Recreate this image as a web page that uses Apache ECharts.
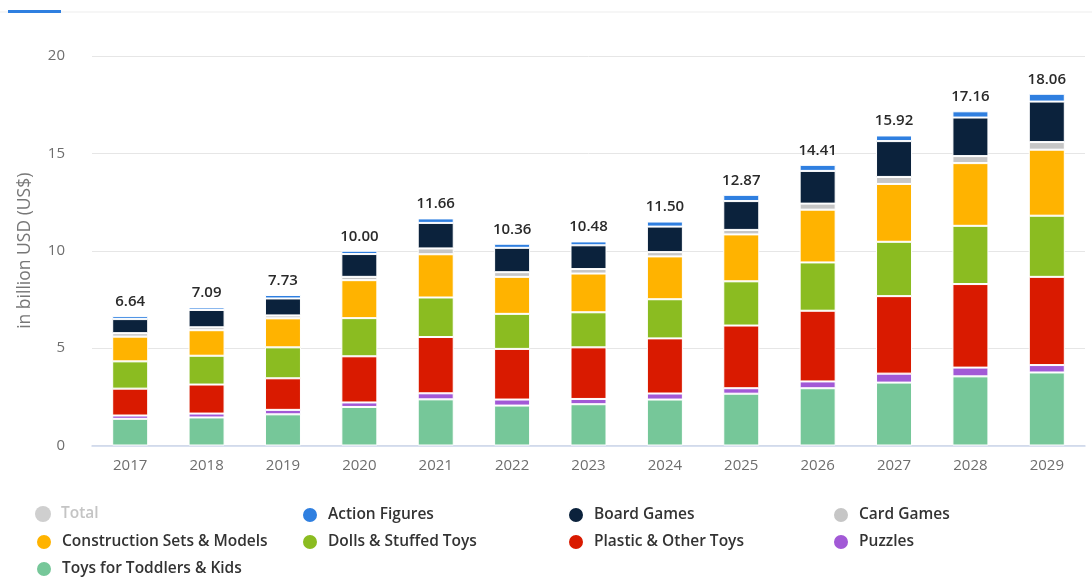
<!DOCTYPE html>
<html>
<head>
<meta charset="utf-8">
<title>Toys market revenue by segment</title>
<script src="https://cdn.jsdelivr.net/npm/echarts@6/dist/echarts.min.js"></script>
<style>
  html, body { margin: 0; padding: 0; background: #ffffff; }
  #chart { width: 1092px; height: 577px; }
</style>
</head>
<body>
<div id="chart"></div>
<script>
// Revenue in billion US$, per segment (stacked bottom to top)
const years = ['2017', '2018', '2019', '2020', '2021', '2022', '2023', '2024', '2025', '2026', '2027', '2028', '2029'];
const toddlersKids = [1.37, 1.44, 1.60, 1.98, 2.37, 2.05, 2.12, 2.36, 2.66, 2.94, 3.23, 3.55, 3.75];
const puzzles      = [0.17, 0.20, 0.23, 0.23, 0.31, 0.31, 0.27, 0.31, 0.28, 0.35, 0.46, 0.45, 0.38];
const plasticOther = [1.38, 1.49, 1.62, 2.37, 2.89, 2.60, 2.65, 2.83, 3.22, 3.63, 3.98, 4.29, 4.53];
const dollsStuffed = [1.40, 1.48, 1.59, 1.96, 2.03, 1.80, 1.80, 2.01, 2.27, 2.48, 2.79, 2.99, 3.14];
const construction = [1.27, 1.31, 1.49, 1.95, 2.22, 1.90, 1.99, 2.20, 2.41, 2.71, 2.97, 3.22, 3.39];
const cardGames    = [0.18, 0.15, 0.15, 0.17, 0.30, 0.24, 0.23, 0.22, 0.23, 0.31, 0.36, 0.36, 0.39];
const boardGames   = [0.72, 0.89, 0.87, 1.17, 1.31, 1.25, 1.22, 1.31, 1.48, 1.68, 1.84, 1.98, 2.08];
const actionFigs   = [0.15, 0.13, 0.18, 0.17, 0.23, 0.21, 0.20, 0.26, 0.32, 0.31, 0.29, 0.32, 0.40];
const totals       = [6.64, 7.09, 7.73, 10.00, 11.66, 10.36, 10.48, 11.50, 12.87, 14.41, 15.92, 17.16, 18.06];
const yTicks = [0, 5, 10, 15, 20];

const FONT = '"Open Sans", "DejaVu Sans", sans-serif';
const BAR_W = 36;

const segments = [
  { name: 'Toys for Toddlers & Kids',   data: toddlersKids, color: '#76c799' },
  { name: 'Puzzles',                    data: puzzles,      color: '#a259d6' },
  { name: 'Plastic & Other Toys',       data: plasticOther, color: '#d91a00' },
  { name: 'Dolls & Stuffed Toys',       data: dollsStuffed, color: '#8bbc21' },
  { name: 'Construction Sets & Models', data: construction, color: '#ffb300' },
  { name: 'Card Games',                 data: cardGames,    color: '#c6c6c6' },
  { name: 'Board Games',                data: boardGames,   color: '#0b223c' },
  { name: 'Action Figures',             data: actionFigs,   color: '#2f7fe0' }
];

const series = [
  {
    // Total sits behind the stack and only carries the value label on top
    name: 'Total',
    type: 'bar',
    data: totals,
    barWidth: BAR_W,
    barGap: '-100%',
    z: 1,
    silent: true,
    itemStyle: { color: 'rgba(0,0,0,0)' },
    label: {
      show: true,
      position: 'top',
      distance: 7,
      color: '#2a2a2a',
      fontFamily: FONT,
      fontSize: 15,
      fontWeight: 600,
      formatter: p => p.value.toFixed(2)
    }
  }
].concat(segments.map(s => ({
  name: s.name,
  type: 'bar',
  stack: 'revenue',
  data: s.data,
  barWidth: BAR_W,
  barGap: '-100%',
  z: 2,
  itemStyle: { color: s.color, borderColor: '#ffffff', borderWidth: 1 }
})));

// Legend grid: 4 columns
const legendOrder = [
  'Total', 'Action Figures', 'Board Games', 'Card Games',
  'Construction Sets & Models', 'Dolls & Stuffed Toys', 'Plastic & Other Toys', 'Puzzles',
  'Toys for Toddlers & Kids'
];
const colX = [35, 301, 567, 832];
const rowY = [506, 533, 560];
const legends = legendOrder.map((name, i) => {
  const isTotal = name === 'Total';
  return {
    left: colX[i % 4],
    top: rowY[Math.floor(i / 4)],
    padding: 0,
    icon: 'circle',
    itemWidth: 16,
    itemHeight: 16,
    selectedMode: false,
    data: [isTotal
      ? { name, itemStyle: { color: '#cfcfcf' }, textStyle: { color: '#c4c4c4' } }
      : { name }],
    textStyle: {
      color: '#333333',
      fontFamily: FONT,
      fontSize: 15.5,
      fontWeight: 600,
      padding: [0, 0, 0, 5]
    }
  };
});

const chart = echarts.init(document.getElementById('chart'), null, { renderer: 'canvas' });
chart.setOption({
  animation: false,
  backgroundColor: '#ffffff',
  grid: { left: 92, right: 7, top: 56, bottom: 131.5, containLabel: false },
  legend: legends,
  graphic: [
    { type: 'rect', shape: { x: 0, y: 11.5, width: 1092, height: 1 }, style: { fill: '#eeeeee' }, silent: true },
    { type: 'rect', shape: { x: 8, y: 10, width: 53, height: 3 }, style: { fill: '#2f7fe0' }, silent: true }
  ],
  xAxis: {
    type: 'category',
    data: years,
    axisLine: { lineStyle: { color: '#ccd6eb', width: 1.5 } },
    axisTick: { alignWithLabel: true, length: 6, lineStyle: { color: '#ccd6eb' } },
    axisLabel: { color: '#6e6e6e', fontFamily: FONT, fontSize: 15, margin: 13 }
  },
  yAxis: {
    type: 'value',
    min: yTicks[0],
    max: yTicks[yTicks.length - 1],
    interval: yTicks[1] - yTicks[0],
    name: 'in billion USD (US$)',
    nameLocation: 'middle',
    nameGap: 58,
    nameTextStyle: { color: '#777777', fontFamily: FONT, fontSize: 17.5 },
    axisLine: { show: false },
    axisTick: { show: false },
    axisLabel: { color: '#6e6e6e', fontFamily: FONT, fontSize: 15, margin: 27 },
    splitLine: { lineStyle: { color: '#e6e6e6' } }
  },
  series
});
</script>
</body>
</html>
